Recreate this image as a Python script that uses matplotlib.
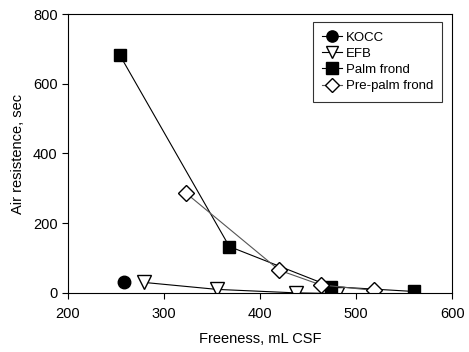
import matplotlib
matplotlib.use("Agg")
from matplotlib import pyplot as plt

plt.rcParams['font.family'] = ['Liberation Sans', 'DejaVu Sans']

# data
kocc_x = [258]
kocc_y = [30]
efb_x = [279, 355, 437, 480]
efb_y = [30, 10, 0, -2]
palm_x = [254, 368, 474, 560]
palm_y = [682, 133, 18, 4]
prepalm_x = [323, 420, 463, 519]
prepalm_y = [286, 65, 23, 7]

fig = plt.figure(figsize=(4.69, 3.52), dpi=100)
ax = fig.add_axes([0.145, 0.168, 0.819, 0.792])

ax.plot(kocc_x, kocc_y, '-o', color='black', mfc='black', ms=9, lw=0.8, label='KOCC')
ax.plot(efb_x, efb_y, '-v', color='black', mfc='white', mec='black', ms=10, lw=0.8, label='EFB')
ax.plot(palm_x, palm_y, '-s', color='black', mfc='black', ms=9, lw=0.8, label='Palm frond')
ax.plot(prepalm_x, prepalm_y, '-D', color='#555555', mfc='white', mec='black', ms=8, lw=0.8,
        label='Pre-palm frond')

ax.set_xlim(200, 600)
ax.set_ylim(0, 800)
ax.set_xticks([200, 300, 400, 500, 600])
ax.set_yticks([0, 200, 400, 600, 800])
ax.tick_params(direction='out', length=4, labelsize=10.5, top=False, right=False)
ax.tick_params(axis='x', pad=6)
for s in ax.spines.values():
    s.set_linewidth(0.8)

ax.set_xlabel('Freeness, mL CSF', fontsize=10.5, labelpad=8)
ax.set_ylabel('Air resistence, sec', fontsize=10.5, labelpad=6)

leg = ax.legend(loc='upper right', bbox_to_anchor=(0.985, 0.985), fontsize=9.5, frameon=True,
                fancybox=False, edgecolor='black', handlelength=1.5, borderpad=0.7,
                labelspacing=0.3, handletextpad=0.3, borderaxespad=0.3, markerscale=0.9)
leg.get_frame().set_linewidth(0.8)

fig.savefig('out.png', dpi=100)
